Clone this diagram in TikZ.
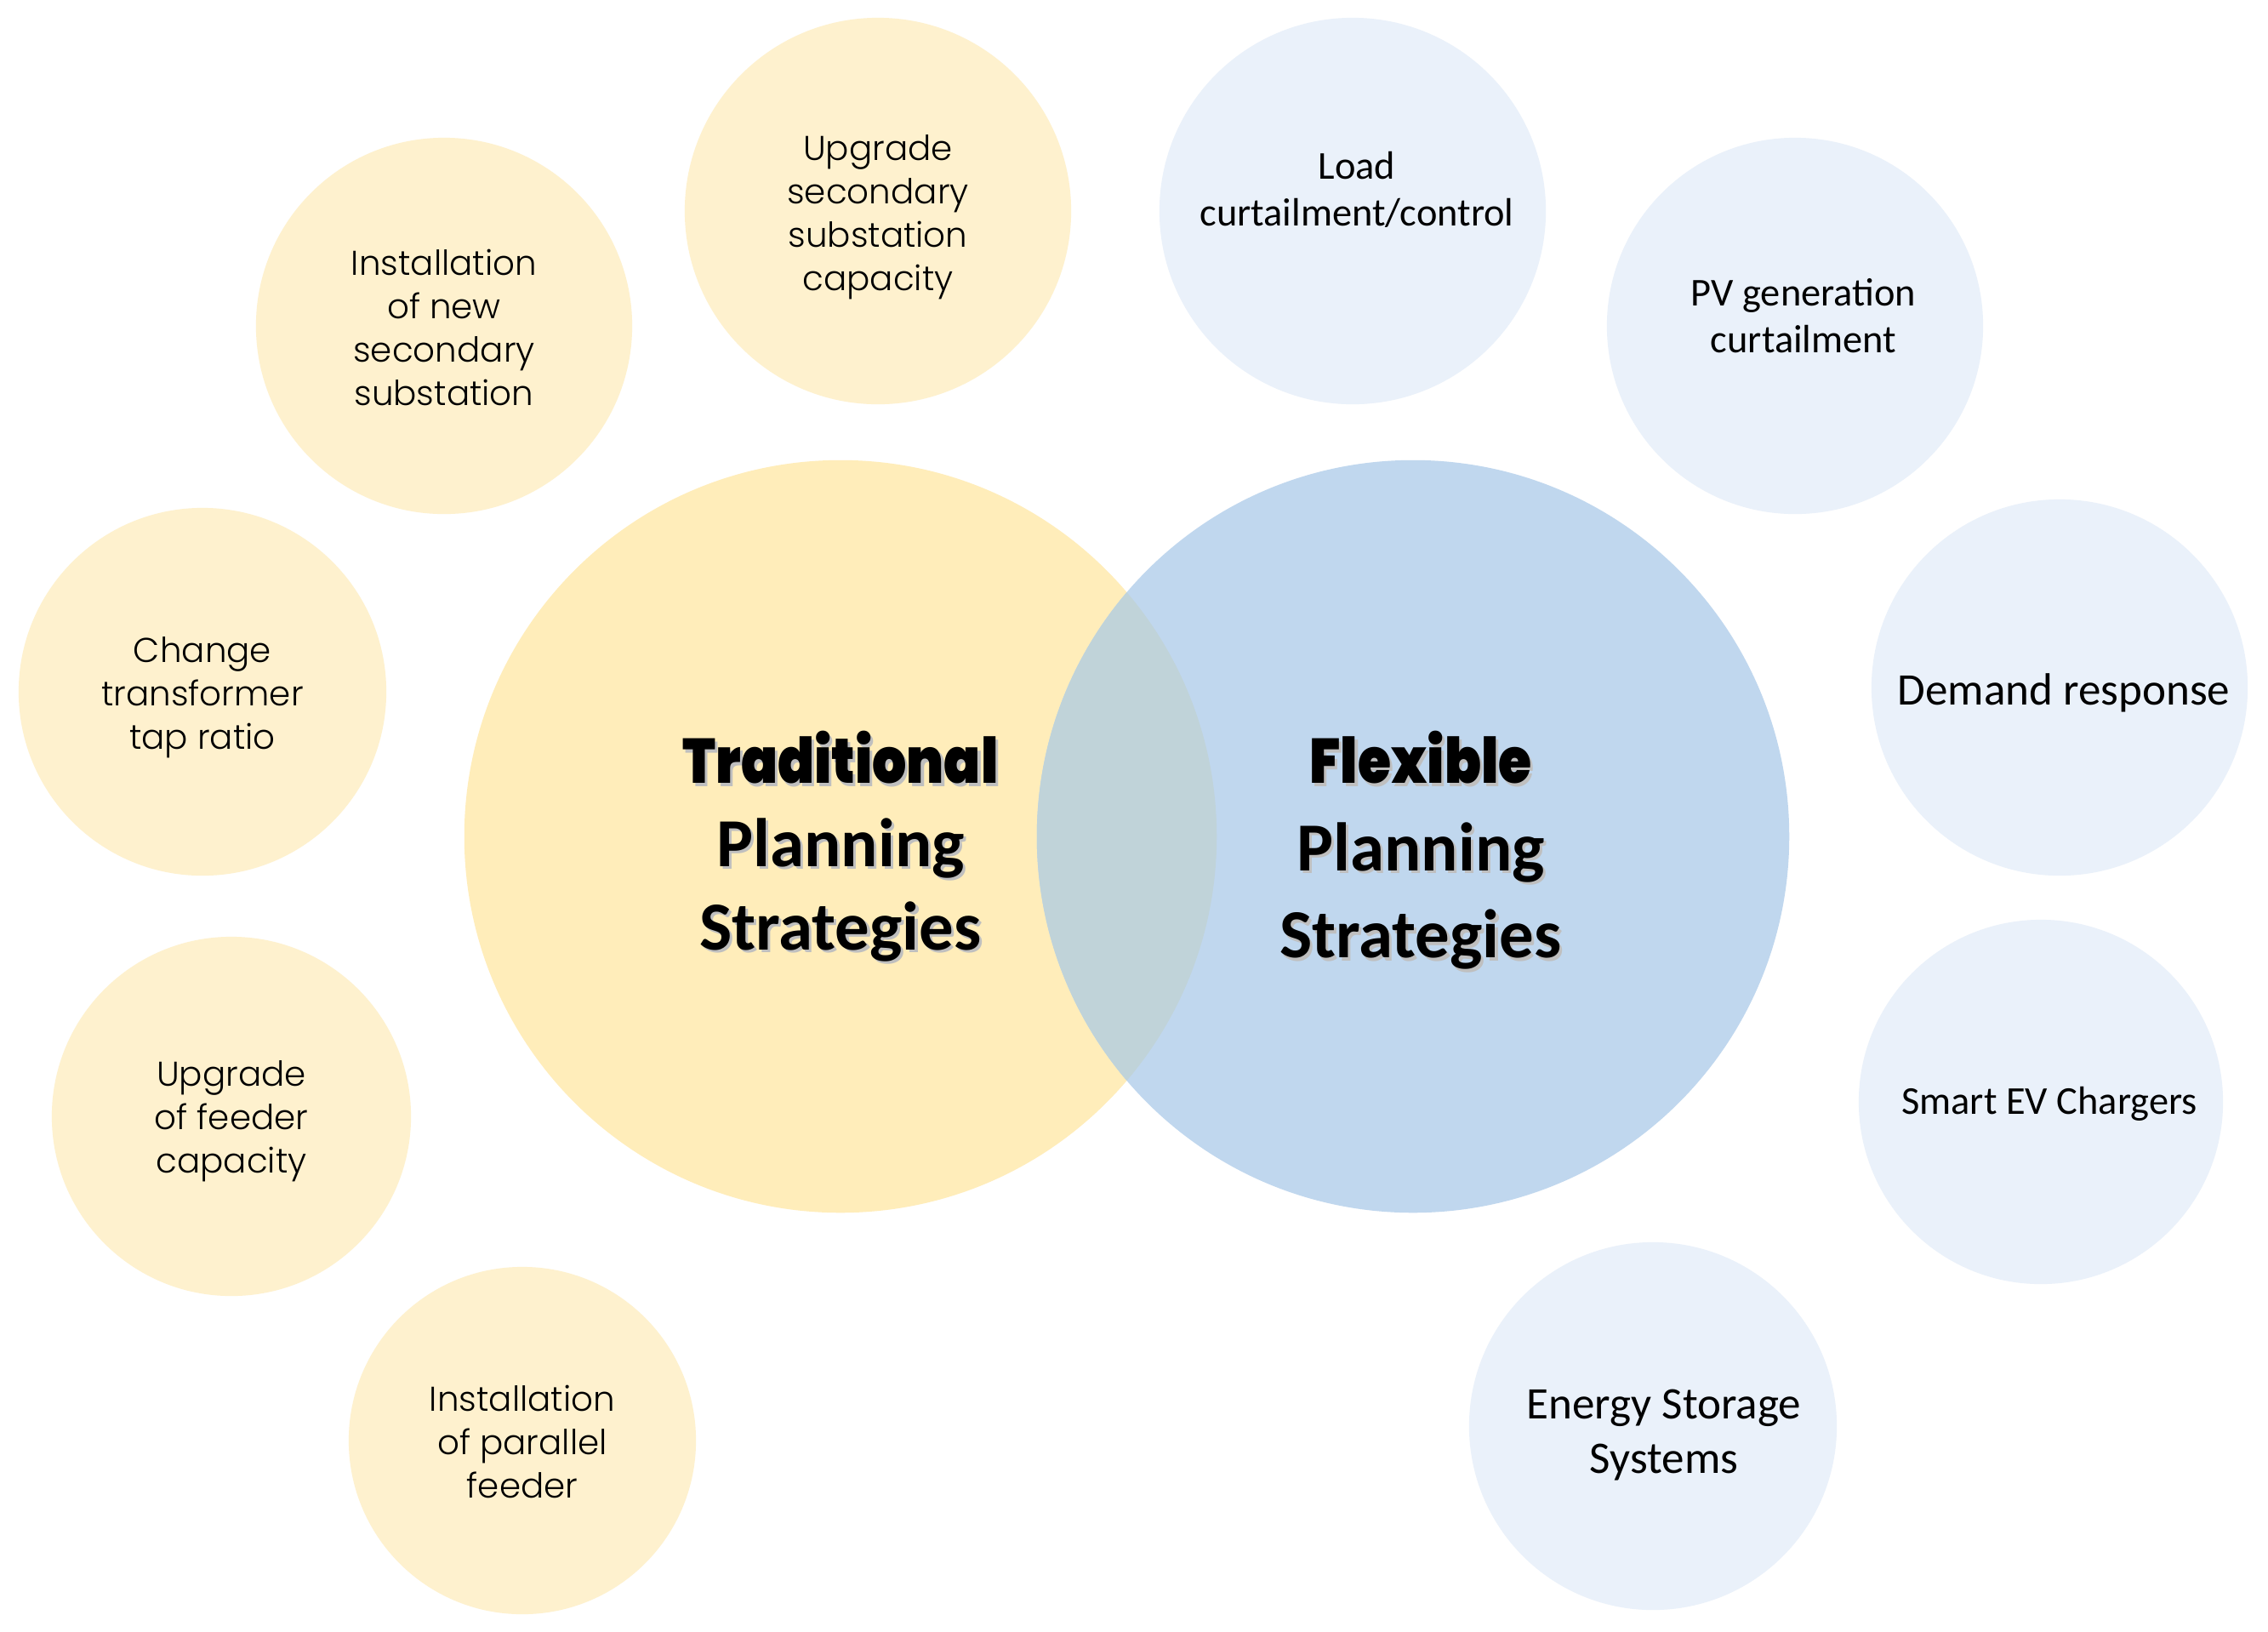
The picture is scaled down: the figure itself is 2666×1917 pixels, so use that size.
\documentclass[tikz,border=0pt]{standalone}
\usepackage{fontspec}
\newfontfamily\gothic{Poppins Light}
\newfontfamily\gothicb{Poppins}[UprightFont=* Bold]
\newfontfamily\calib{Carlito}
\definecolor{ybig}{HTML}{FFEDBA}
\definecolor{ysmall}{HTML}{FEF1CE}
\definecolor{bbig}{HTML}{C0D7EE}
\definecolor{bsmall}{HTML}{EAF1FA}
\definecolor{overlapc}{HTML}{C0D3D9}
\newcommand\shtext[1]{\leavevmode\rlap{\kern0.9pt\raisebox{-0.9pt}{\textcolor{black!25}{#1}}}#1}
\begin{document}
\begin{tikzpicture}[x=0.01cm,y=-0.01cm,
  ytext/.style={font=\gothic\fontsize{11.5}{14.5}\selectfont, align=center, inner sep=0pt, text=black},
  btext/.style={font=\calib\fontsize{13.2}{15.6}\selectfont, align=center, inner sep=0pt, text=black},
  btextL/.style={font=\calib\fontsize{15.1}{18.2}\selectfont, align=center, inner sep=0pt, text=black},
  titleL/.style={font=\calib\bfseries\fontsize{23}{27.8}\selectfont, align=center, inner sep=0pt, text=black},
  titleR/.style={font=\calib\bfseries\fontsize{23}{29.2}\selectfont, align=center, inner sep=0pt, text=black}]
\fill[white] (0,0) rectangle (2666,1917);
\path[use as bounding box] (0,0) rectangle (2666,1917);
% big circles
\fill[ybig] (988,983) circle (4.42cm);
\fill[bbig] (1661,983) circle (4.42cm);
\begin{scope}
  \clip (988,983) circle (4.42cm);
  \fill[overlapc] (1661,983) circle (4.42cm);
\end{scope}
% small yellow circles
\fill[ysmall] (1032,248) circle (2.27cm);
\fill[ysmall] (522,383) circle (2.21cm);
\fill[ysmall] (238,813) circle (2.16cm);
\fill[ysmall] (272,1312) circle (2.11cm);
\fill[ysmall] (614,1693) circle (2.04cm);
% small blue circles
\fill[bsmall] (1590,248) circle (2.27cm);
\fill[bsmall] (2110,383) circle (2.21cm);
\fill[bsmall] (2421,808) circle (2.21cm);
\fill[bsmall] (2399,1295) circle (2.14cm);
\fill[bsmall] (1943,1676) circle (2.16cm);
% yellow texts
\node[ytext] (t1) at (1032,255) {Upgrade\\secondary\\substation\\capacity};
\node[ytext] (t2) at (522,385) {Installation\\of new\\secondary\\substation};
\node[ytext] (t3) at (238,820) {Change\\transformer\\tap ratio};
\node[ytext] (t4) at (272,1318) {Upgrade\\of feeder\\capacity};
\node[ytext] (t5) at (614,1694) {Installation\\of parallel\\feeder};
% blue texts
\node[btext] (b1) at (1595,223) {Load\\curtailment/control};
\node[btext] (b2) at (2120,371) {PV generation\\curtailment};
\node[btextL] (b3) at (2426,814) {Demand response};
\node[btext] (b4) at (2409,1297) {Smart EV Chargers};
\node[btextL] (b5) at (1956,1687) {Energy Storage\\Systems};
% titles
\node[titleL] (trad) at (988,996) {%
  {\gothicb\fontsize{18}{27.8}\selectfont\scalebox{1}[1.17]{\shtext{Traditional}}}\\
  \shtext{Planning}\\
  \shtext{Strategies}};
\node[titleR] (flex) at (1670,1001) {%
  {\gothicb\fontsize{18}{29.2}\selectfont\scalebox{1}[1.17]{\shtext{Flexible}}}\\
  \shtext{Planning}\\
  \shtext{Strategies}};
\end{tikzpicture}
\end{document}
